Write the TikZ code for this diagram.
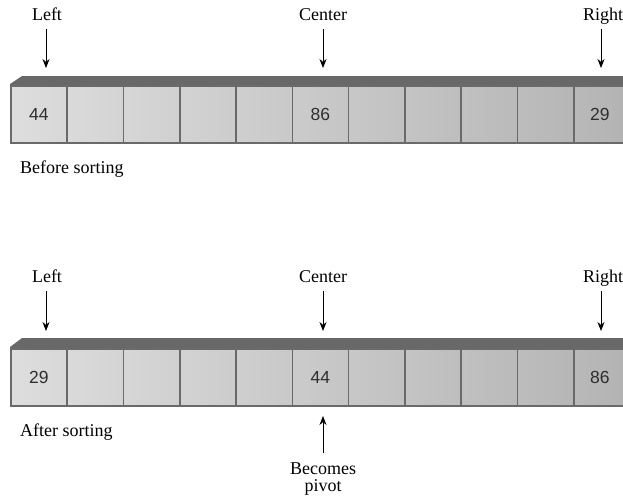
\documentclass[tikz,border=0pt]{standalone}
\usepackage{fontspec}
\setmainfont{Liberation Serif}
\newfontfamily\numfont{Liberation Sans}
\usetikzlibrary{arrows.meta}
\definecolor{bandgray}{HTML}{686868}
\definecolor{cellborder}{HTML}{6A6A6A}
\begin{document}
\begin{tikzpicture}[x=1pt,y=-1pt,
  lbl/.style={font=\fontsize{18}{20}\selectfont, inner sep=0pt, anchor=base},
  num/.style={font=\numfont\fontsize{17.5}{20}\selectfont, text=black!82, inner sep=0pt},
  arr/.style={-{Stealth[length=9pt,width=7pt]}, line width=0.8pt},
  cellbox/.style={draw=cellborder, line width=1.6pt, minimum width=56.3pt,
    minimum height=57pt, inner sep=0pt, anchor=north west}
]
\useasboundingbox (0,0) rectangle (623,501);
\clip (0,0) rectangle (623,501);

% ---------- Row 1 (before sorting) ----------
\fill[bandgray] (10,85) -- (10,84) -- (22,76) -- (640,76) -- (640,85) -- cycle;
\foreach \i in {0,...,10}{
  \pgfmathsetmacro{\lc}{13+1.45*\i}
  \pgfmathsetmacro{\rc}{\lc+2.5}
  \node[cellbox, left color=black!\lc, right color=black!\rc] (a\i) at ({10+56.3*\i},85) {};
}
\node[num] (na0) at (a0.center) {44};
\node[num] (na5) at (a5.center) {86};
\node[num] (na10) at ([xshift=-2pt]a10.center) {29};

\node[lbl] (l1) at (47,20) {Left};
\node[lbl] (c1) at (323,20) {Center};
\node[lbl] (r1) at (603,20) {Right};
\coordinate (l1s) at (46,29);  \coordinate (l1e) at (46,68);
\coordinate (c1s) at (323,29); \coordinate (c1e) at (323,68);
\coordinate (r1s) at (601,29); \coordinate (r1e) at (601,68);
\draw[arr] (l1s) -- (l1e);
\draw[arr] (c1s) -- (c1e);
\draw[arr] (r1s) -- (r1e);
\node[lbl, anchor=base west] (before) at (20,173) {Before sorting};

% ---------- Row 2 (after sorting) ----------
\fill[bandgray] (10,348) -- (10,347) -- (22,338) -- (640,338) -- (640,348) -- cycle;
\foreach \i in {0,...,10}{
  \pgfmathsetmacro{\lc}{13+1.45*\i}
  \pgfmathsetmacro{\rc}{\lc+2.5}
  \node[cellbox, left color=black!\lc, right color=black!\rc] (b\i) at ({10+56.3*\i},348) {};
}
\node[num] (nb0) at (b0.center) {29};
\node[num] (nb5) at (b5.center) {44};
\node[num] (nb10) at ([xshift=-2pt]b10.center) {86};

\node[lbl] (l2) at (47,282) {Left};
\node[lbl] (c2) at (323,282) {Center};
\node[lbl] (r2) at (603,282) {Right};
\coordinate (l2s) at (46,291);  \coordinate (l2e) at (46,331);
\coordinate (c2s) at (323,291); \coordinate (c2e) at (323,331);
\coordinate (r2s) at (601,291); \coordinate (r2e) at (601,331);
\draw[arr] (l2s) -- (l2e);
\draw[arr] (c2s) -- (c2e);
\draw[arr] (r2s) -- (r2e);
\node[lbl, anchor=base west] (after) at (20,436) {After sorting};

\node[lbl] (piv1) at (323,474) {Becomes};
\node[lbl] (piv2) at (323,491) {pivot};
\coordinate (ps) at (323,453); \coordinate (pe) at (323,416);
\draw[arr] (ps) -- (pe);
\end{tikzpicture}
\end{document}
